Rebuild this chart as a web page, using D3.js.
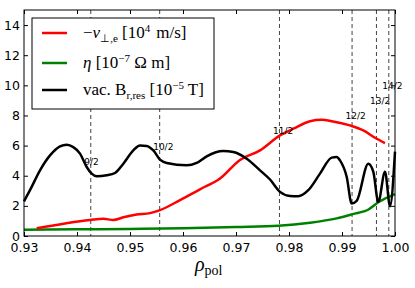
<!DOCTYPE html>
<html>
<head>
<meta charset="utf-8">
<script src="https://cdn.jsdelivr.net/npm/d3@7"></script>
<style>
  body { margin: 0; background: #fff; }
  svg { display: block; }
  .tick text { font-family: "DejaVu Sans", sans-serif; font-size: 12.5px; }
</style>
</head>
<body>
<script>
var width = 415,
    height = 288,
    margin = {left: 24, right: 20, top: 10, bottom: 52};

// black: vacuum resonant field, rho_pol vs value
var bRho = [0.93, 0.93113, 0.93302, 0.93491, 0.93679, 0.93806, 0.9393, 0.94057, 0.94183, 0.94277,
            0.94372, 0.9456, 0.94717, 0.94874, 0.95062, 0.95189, 0.95315, 0.9544, 0.95566, 0.95692,
            0.9607, 0.96258, 0.96447, 0.9676, 0.96949, 0.97202, 0.97453, 0.97642, 0.9783, 0.98019,
            0.98175, 0.98364, 0.98585, 0.98806, 0.989, 0.98962, 0.99089, 0.99183, 0.99277, 0.99496,
            0.99591, 0.99685, 0.99811, 0.99906, 1.0];
var bVal = [2.3, 3.04, 4.36, 5.35, 5.95, 6.06, 5.9, 5.47, 4.58, 4.14,
            3.97, 4.03, 4.18, 4.8, 5.68, 6.01, 5.98, 5.68, 5.07, 4.85,
            4.69, 4.85, 5.29, 5.64, 5.57, 5.13, 4.36, 3.75, 2.93, 2.66,
            2.64, 3.04, 4.14, 5.2, 5.24, 5.02, 3.92, 2.16, 2.33, 4.8,
            4.26, 2.27, 4.26, 1.98, 5.6];

// red: -v_perp,e
var vRho = [0.93239, 0.94245, 0.94497, 0.94685, 0.94874, 0.95126, 0.95377, 0.95566, 0.95943, 0.96321,
            0.96698, 0.97075, 0.97453, 0.9783, 0.98081, 0.98396, 0.98617, 0.98806, 0.99151, 0.99402,
            0.99623, 0.99811];
var vVal = [0.51, 1.06, 1.15, 1.06, 1.24, 1.42, 1.52, 1.72, 2.38, 3.1,
            3.81, 5.05, 5.68, 6.68, 7.12, 7.62, 7.71, 7.62, 7.34, 7.01,
            6.52, 6.17];

// green: eta
var eRho = [0.93, 0.94, 0.95, 0.96, 0.97, 0.978, 0.984, 0.989, 0.992, 0.995, 0.997, 1.0];
var eVal = [0.42, 0.44, 0.47, 0.52, 0.6, 0.68, 0.88, 1.17, 1.45, 1.76, 2.27, 2.78];

// rational surfaces
var resRho = [0.9426, 0.9556, 0.9782, 0.9919, 0.9965, 0.99883];
var resLabel = ["9/2", "10/2", "11/2", "12/2", "13/2", "14/2"];
var resLabelY = [4.95, 5.95, 6.95, 7.95, 8.95, 9.95];

var xTicks = [0.93, 0.94, 0.95, 0.96, 0.97, 0.98, 0.99, 1.00];
var yTicks = [0, 2, 4, 6, 8, 10, 12, 14];

var x = d3.scaleLinear().domain([0.93, 1.0]).range([margin.left, width - margin.right]);
var y = d3.scaleLinear().domain([0, 15]).range([height - margin.bottom, margin.top]);

var svg = d3.select("body").append("svg")
    .attr("width", width)
    .attr("height", height);

function pairs(xs, ys) {
  return xs.map(function(d, i) { return [d, ys[i]]; });
}

var line = d3.line()
    .x(function(d) { return x(d[0]); })
    .y(function(d) { return y(d[1]); })
    .curve(d3.curveMonotoneX);

// dashed resonance lines
svg.selectAll(".res")
    .data(resRho)
  .enter().append("line")
    .attr("class", "res")
    .attr("x1", function(d) { return x(d); })
    .attr("x2", function(d) { return x(d); })
    .attr("y1", y(15))
    .attr("y2", y(0))
    .attr("stroke", "#444")
    .attr("stroke-width", 1)
    .attr("stroke-dasharray", "4,3");

svg.append("path").datum(pairs(eRho, eVal))
    .attr("d", line).attr("fill", "none")
    .attr("stroke", "#008000").attr("stroke-width", 2.5);

svg.append("path").datum(pairs(vRho, vVal))
    .attr("d", line).attr("fill", "none")
    .attr("stroke", "#ff0000").attr("stroke-width", 2.5);

svg.append("path").datum(pairs(bRho, bVal))
    .attr("d", line).attr("fill", "none")
    .attr("stroke", "#000").attr("stroke-width", 2.5)
    .attr("stroke-linejoin", "round");

svg.selectAll(".reslabel")
    .data(resRho)
  .enter().append("text")
    .attr("class", "reslabel")
    .attr("x", function(d) { return x(d) - 6.5; })
    .attr("y", function(d, i) { return y(resLabelY[i]); })
    .attr("dy", "0.35em")
    .attr("font-family", "DejaVu Sans, sans-serif")
    .attr("font-size", "9px")
    .text(function(d, i) { return resLabel[i]; });

// axes, ticks pointing inward on all sides
svg.append("g")
    .attr("transform", "translate(0," + y(0) + ")")
    .call(d3.axisBottom(x).tickValues(xTicks).tickFormat(d3.format(".2f")).tickSizeInner(-4).tickSizeOuter(0).tickPadding(7));
svg.append("g")
    .attr("transform", "translate(" + x(0.93) + ",0)")
    .call(d3.axisLeft(y).tickValues(yTicks).tickSizeInner(-4).tickSizeOuter(0).tickPadding(4));
svg.append("g")
    .attr("transform", "translate(0," + y(15) + ")")
    .call(d3.axisTop(x).tickValues(xTicks).tickFormat("").tickSizeInner(-4).tickSizeOuter(0));
svg.append("g")
    .attr("transform", "translate(" + x(1.0) + ",0)")
    .call(d3.axisRight(y).tickValues(yTicks).tickFormat("").tickSizeInner(-4).tickSizeOuter(0));
svg.selectAll(".domain").remove();
svg.selectAll(".tick text").attr("fill", "#000");

svg.append("rect")
    .attr("x", x(0.93)).attr("y", y(15))
    .attr("width", x(1.0) - x(0.93)).attr("height", y(0) - y(15))
    .attr("fill", "none").attr("stroke", "#000").attr("stroke-width", 1);

// x label
var xl = svg.append("text")
    .attr("x", 195).attr("y", 271)
    .attr("font-family", "Liberation Serif, serif")
    .attr("font-size", "20px");
xl.append("tspan").attr("font-style", "italic").text("ρ");
xl.append("tspan").attr("dy", 4).attr("font-size", "14px").text("pol");

// legend
var legend = svg.append("g");
legend.append("rect")
    .attr("x", 32).attr("y", 18).attr("width", 182).attr("height", 91)
    .attr("fill", "#fff").attr("stroke", "#000").attr("stroke-width", 1);

var legendColor = ["#ff0000", "#008000", "#000"];
var legendY = [33, 63, 90];
legend.selectAll(".lline")
    .data(legendColor)
  .enter().append("line")
    .attr("x1", 42).attr("x2", 67)
    .attr("y1", function(d, i) { return legendY[i]; })
    .attr("y2", function(d, i) { return legendY[i]; })
    .attr("stroke", function(d) { return d; })
    .attr("stroke-width", 2.5);

function ltext(i) {
  return legend.append("text")
      .attr("x", 83).attr("y", legendY[i] + 5)
      .attr("font-family", "Liberation Serif, serif")
      .attr("font-size", "17px")
      .attr("xml:space", "preserve");
}
var t1 = ltext(0);
t1.append("tspan").text("−");
t1.append("tspan").attr("font-style", "italic").text("v");
t1.append("tspan").attr("dy", 4).attr("font-size", "11px").text("⊥,e");
t1.append("tspan").attr("dy", -4).text(" [10");
t1.append("tspan").attr("dy", -6).attr("font-size", "11px").text("4");
t1.append("tspan").attr("dy", 6).attr("dx", 6).text("m/s]");

var t2 = ltext(1);
t2.append("tspan").attr("font-style", "italic").text("η");
t2.append("tspan").text(" [10");
t2.append("tspan").attr("dy", -6).attr("font-size", "11px").text("−7");
t2.append("tspan").attr("dy", 6).text(" Ω m]");

var t3 = ltext(2);
t3.append("tspan").text("vac. B");
t3.append("tspan").attr("dy", 4).attr("font-size", "11px").text("r,res");
t3.append("tspan").attr("dy", -4).text(" [10");
t3.append("tspan").attr("dy", -6).attr("font-size", "11px").text("−5");
t3.append("tspan").attr("dy", 6).text(" T]");
</script>
</body>
</html>
